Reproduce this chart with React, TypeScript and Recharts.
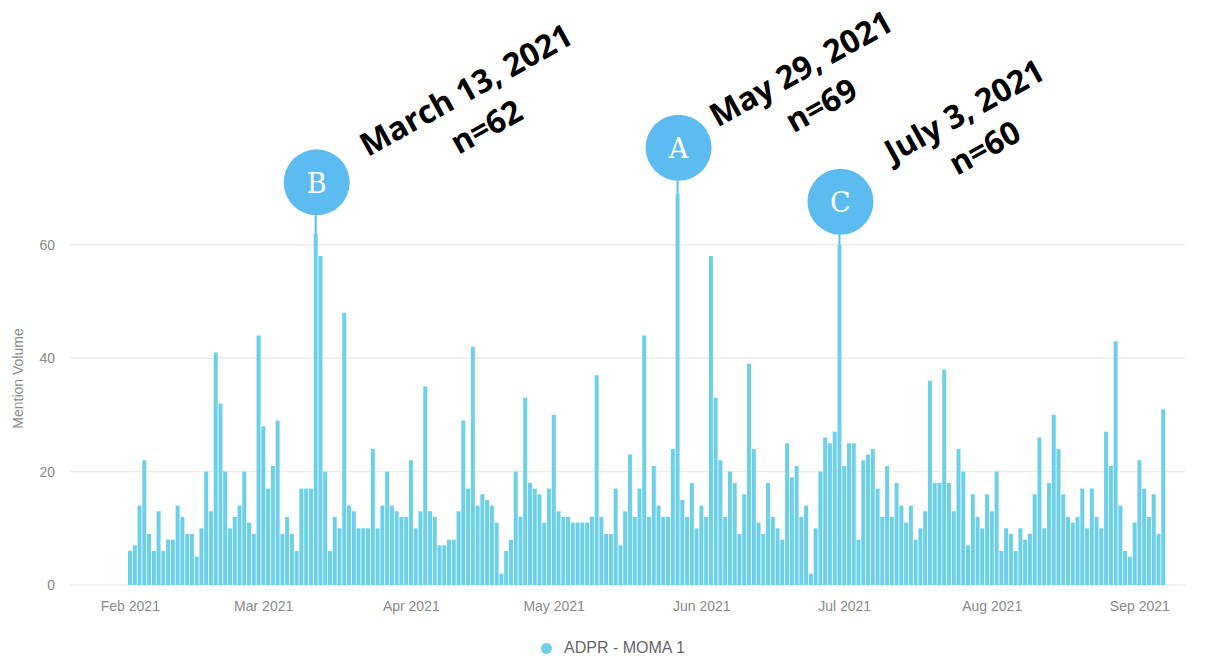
import { BarChart, Bar, XAxis, YAxis, CartesianGrid, Legend, LabelList } from 'recharts';

// daily mention counts, one array per month
const feb = [6, 7, 14, 22, 9, 6, 13, 6, 8, 8, 14, 12, 9, 9, 5, 10, 20, 13, 41, 32, 20, 10, 12, 14, 20, 11, 9, 44];
const mar = [28, 17, 21, 29, 9, 12, 9, 6, 17, 17, 17, 62, 58, 20, 6, 12, 10, 48, 14, 13, 10, 10, 10, 24, 10, 14, 20, 14, 13, 12, 12];
const apr = [22, 10, 13, 35, 13, 12, 7, 7, 8, 8, 13, 29, 17, 42, 14, 16, 15, 14, 11, 2, 6, 8, 20, 12, 33, 18, 17, 16, 11, 17];
const may = [30, 13, 12, 12, 11, 11, 11, 11, 12, 37, 12, 9, 9, 17, 7, 13, 23, 12, 17, 44, 12, 21, 14, 12, 12, 24, 69, 15, 12, 18, 10];
const jun = [14, 12, 58, 33, 22, 12, 20, 18, 9, 16, 39, 24, 11, 9, 18, 12, 10, 8, 25, 19, 21, 12, 14, 2, 10, 20, 26, 25, 27, 60];
const jul = [21, 25, 25, 8, 22, 23, 24, 17, 12, 21, 12, 18, 14, 11, 14, 8, 10, 13, 36, 18, 18, 38, 18, 13, 24, 20, 7, 16, 12, 10, 16];
const aug = [13, 20, 6, 10, 9, 6, 10, 8, 9, 16, 26, 10, 18, 30, 24, 16, 12, 11, 12, 17, 10, 17, 12, 10, 27, 21, 43, 14, 6, 5, 11];
const sep = [22, 17, 12, 16, 9, 31];

const monthKeys = ['2021-02', '2021-03', '2021-04', '2021-05', '2021-06', '2021-07', '2021-08', '2021-09'];
const monthLabels = ['Feb 2021', 'Mar 2021', 'Apr 2021', 'May 2021', 'Jun 2021', 'Jul 2021', 'Aug 2021', 'Sep 2021'];
const yTicks = [0, 20, 40, 60];

const seriesName = 'ADPR - MOMA 1';

// peaks called out above the bars
const callouts = [
  { day: '2021-03-12', letter: 'B', caption: 'March 13, 2021' },
  { day: '2021-05-27', letter: 'A', caption: 'May 29, 2021' },
  { day: '2021-06-30', letter: 'C', caption: 'July 3, 2021' },
];

// hand placement of each callout relative to its bar top: [text dx, text dy, bubble lift]
const calloutPlacement: Record<string, [number, number, number]> = {
  B: [52, -76, 51],
  A: [40, -66, 46],
  C: [53, -81, 43],
};

const BAR_COLOR = '#6dd0ea';
const BUBBLE_COLOR = '#5cbcf0';
const AXIS_TEXT = '#8a8a8a';
const CAPTION_SIZE = 32;
const CAPTION_FONT = `700 ${CAPTION_SIZE}px "Open Sans"`;

const months = [feb, mar, apr, may, jun, jul, aug, sep];
const chartData = months.flatMap((values, m) =>
  values.map((v, i) => ({
    day: `${monthKeys[m]}-${String(i + 1).padStart(2, '0')}`,
    label: i === 0 ? monthLabels[m] : '',
    mentions: v,
  }))
);

let measureCtx: CanvasRenderingContext2D | null = null;
function textWidth(text: string) {
  if (!measureCtx) measureCtx = document.createElement('canvas').getContext('2d');
  if (!measureCtx) return text.length * 18;
  measureCtx.font = CAPTION_FONT;
  return measureCtx.measureText(text).width;
}

function Callout(props: any) {
  const { x, y, width, value, index } = props;
  const row = chartData[index];
  const c = row && callouts.find(k => k.day === row.day);
  if (!c) return null;

  const [dx, dy, lift] = calloutPlacement[c.letter];
  const cx = x + width / 2;
  const r = 33;
  const cy = y - lift;
  const w = textWidth(c.caption);

  return (
    <g>
      <line x1={cx} x2={cx} y1={cy + r} y2={y} stroke={BUBBLE_COLOR} strokeWidth={2} />
      <circle cx={cx + 1} cy={cy} r={r} fill={BUBBLE_COLOR} />
      <text
        x={cx + 1}
        y={cy + 1}
        textAnchor="middle"
        dominantBaseline="central"
        fill="#ffffff"
        fontSize={27}
        fontFamily="'DejaVu Serif', serif"
      >
        {c.letter}
      </text>
      <g
        transform={`translate(${cx + dx},${y + dy}) rotate(-29)`}
        fontFamily="'Open Sans', sans-serif"
        fontWeight={700}
        fontSize={CAPTION_SIZE}
        fill="#000000"
      >
        <text x={0} y={0}>{c.caption}</text>
        <text x={w / 2} y={42} textAnchor="middle">n={value}</text>
      </g>
    </g>
  );
}

function YLabel(props: any) {
  const { viewBox } = props;
  const x = 18;
  const y = viewBox.y + viewBox.height / 2 - 8;
  return (
    <text
      x={x}
      y={y}
      transform={`rotate(-90, ${x}, ${y})`}
      textAnchor="middle"
      dominantBaseline="central"
      fill={AXIS_TEXT}
      fontSize={14}
    >
      Mention Volume
    </text>
  );
}

function LegendItem() {
  return (
    <div style={{ display: 'flex', alignItems: 'center', height: 24, fontSize: 16, color: '#666666' }}>
      <span style={{ width: 11, height: 11, borderRadius: 6, background: BAR_COLOR, marginRight: 12 }} />
      <span>{seriesName}</span>
    </div>
  );
}

export default function App() {
  return (
    <div style={{ width: 1211, height: 660, background: '#fff', fontFamily: '"Liberation Sans", Arial, sans-serif' }}>
      <style>{'body{margin:0;overflow:hidden;}'}</style>
      <BarChart
        width={1211}
        height={660}
        data={chartData}
        margin={{ top: 188, right: 26, left: 10, bottom: 0 }}
      >
        <CartesianGrid vertical={false} horizontalValues={yTicks} stroke="#ededed" strokeWidth={1.5} />
        <XAxis
          dataKey="day"
          tickFormatter={(d: string) => chartData.find(r => r.day === d)?.label ?? ''}
          interval={0}
          axisLine={false}
          tickLine={false}
          tickSize={0}
          tickMargin={16}
          height={51}
          padding={{ left: 58, right: 19 }}
          tick={{ fill: AXIS_TEXT, fontSize: 14 }}
        />
        <YAxis
          domain={[0, 70]}
          ticks={yTicks}
          axisLine={false}
          tickLine={false}
          tickSize={0}
          tickMargin={15}
          width={60}
          tick={{ fill: AXIS_TEXT, fontSize: 14 }}
          label={<YLabel />}
        />
        <Legend
          verticalAlign="bottom"
          height={24}
          content={() => <LegendItem />}
          wrapperStyle={{ left: 541, width: 220, bottom: 0 }}
        />
        <Bar dataKey="mentions" name={seriesName} fill={BAR_COLOR} barSize={4} isAnimationActive={false}>
          <LabelList dataKey="mentions" content={<Callout />} />
        </Bar>
      </BarChart>
    </div>
  );
}
